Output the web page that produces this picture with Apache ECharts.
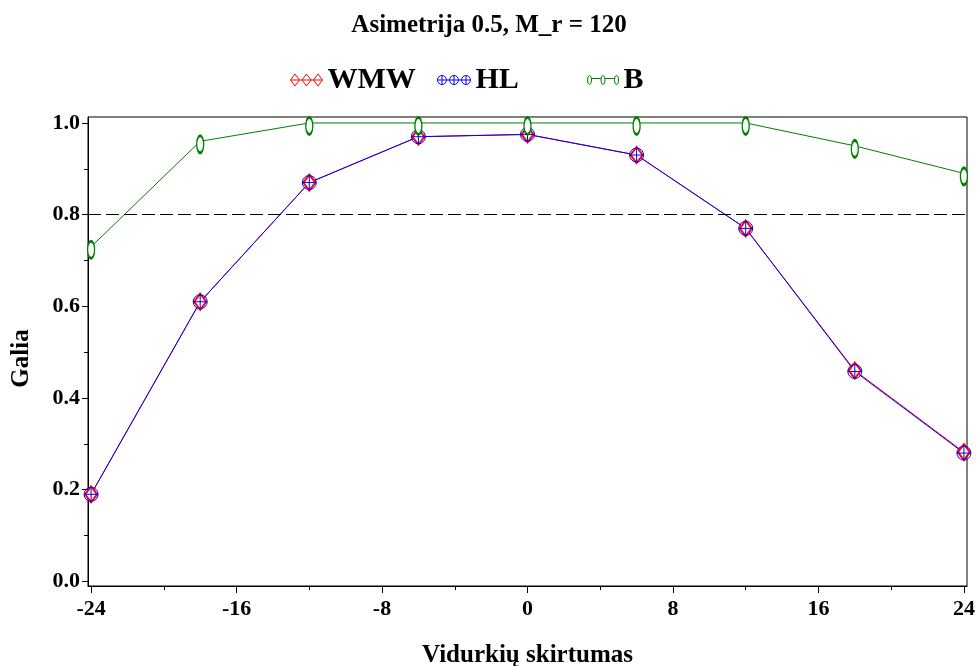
<!DOCTYPE html>
<html>
<head>
<meta charset="utf-8">
<script src="https://cdn.jsdelivr.net/npm/echarts@6/dist/echarts.min.js"></script>
<style>
  html, body { margin: 0; padding: 0; background: #fff; }
  #chart { width: 978px; height: 666px; }
</style>
</head>
<body>
<div id="chart"></div>
<script>
// Mean difference (x) and power estimates for each test
const differences = [-24, -18, -12, -6, 0, 6, 12, 18, 24];
const wmwPower = [0.19, 0.61, 0.87, 0.97, 0.975, 0.93, 0.77, 0.46, 0.282];
const hlPower  = [0.19, 0.61, 0.87, 0.97, 0.975, 0.93, 0.77, 0.458, 0.28];
const bPower   = [0.73, 0.96, 1.0, 1.0, 1.0, 1.0, 1.0, 0.95, 0.89];

// Axis ticks
const xMajorTicks = [-24, -16, -8, 0, 8, 16, 24];
const xMinorTicks = [-20, -12, -4, 4, 12, 20];
const yMajorTicks = [0, 0.2, 0.4, 0.6, 0.8, 1.0];
const yMinorTicks = [0.1, 0.3, 0.5, 0.7, 0.9];
const powerTarget = 0.8;

const FONT = '"Liberation Serif", "Times New Roman", serif';

const pairs = (ys) => differences.map((x, i) => [x, ys[i]]);

// Legend sample icons: three markers joined by a line
const wmwIcon = 'path://M0,6L32,6M0,6L4.5,0L9,6L4.5,12ZM11.5,6L16,0L20.5,6L16,12ZM23,6L27.5,0L32,6L27.5,12Z';
const hlIcon = 'path://M0,5L33,5' +
  'M0,5A4.5,4.5,0,1,1,9,5A4.5,4.5,0,1,1,0,5ZM4.5,0.5L4.5,9.5' +
  'M12,5A4.5,4.5,0,1,1,21,5A4.5,4.5,0,1,1,12,5ZM16.5,0.5L16.5,9.5' +
  'M24,5A4.5,4.5,0,1,1,33,5A4.5,4.5,0,1,1,24,5ZM28.5,0.5L28.5,9.5';
const bIcon = 'path://M4,3L13.5,3M17.5,3L27,3' +
  'M0,4.5A2,4.5,0,1,1,4,4.5A2,4.5,0,1,1,0,4.5Z' +
  'M13.5,4.5A2,4.5,0,1,1,17.5,4.5A2,4.5,0,1,1,13.5,4.5Z' +
  'M27,4.5A2,4.5,0,1,1,31,4.5A2,4.5,0,1,1,27,4.5Z';

const crossCircle = 'path://M0,-10A10,10,0,1,1,0,10A10,10,0,1,1,0,-10ZM-10,0L10,0M0,-10L0,10';

const chart = echarts.init(document.getElementById('chart'), null, { renderer: 'canvas' });

const legendText = { fontFamily: FONT, fontWeight: 'bold', fontSize: 30, color: '#000',
                     padding: [6, 0, 0, 0] };
const mkLegend = (name, icon, color, left, w, h) => ({
  left: left, top: 65, padding: 0, itemWidth: w, itemHeight: h,
  textStyle: legendText, selectedMode: false,
  data: [{ name: name, icon: icon,
           itemStyle: { color: 'rgba(0,0,0,0)', borderColor: color, borderWidth: 1 } }]
});

chart.setOption({
  animation: false,
  backgroundColor: '#fff',
  title: {
    text: 'Asimetrija 0.5, M_r = 120',
    left: 'center', top: 8,
    textStyle: { fontFamily: FONT, fontWeight: 'bold', fontSize: 25, color: '#000' }
  },
  legend: [
    mkLegend('WMW', wmwIcon, '#ff0000', 290, 32, 12),
    mkLegend('HL', hlIcon, '#0000ff', 437, 33, 10),
    mkLegend('B', bIcon, '#008000', 587, 31, 9)
  ],
  grid: {
    left: 88, right: 11, top: 117, bottom: 80,
    outerBoundsMode: 'none', containLabel: false,
    show: true, borderColor: '#000', borderWidth: 1, backgroundColor: 'transparent'
  },
  xAxis: [{
    type: 'value', min: -24.17, max: 24.17,
    name: 'Vidurkių skirtumas', nameLocation: 'middle', nameGap: 57,
    nameTextStyle: { fontFamily: FONT, fontWeight: 'bold', fontSize: 25, color: '#000' },
    axisLine: { show: true, onZero: false, lineStyle: { color: '#000', width: 1 } },
    axisTick: { show: true, length: 7, customValues: xMajorTicks, lineStyle: { color: '#000' } },
    axisLabel: { customValues: xMajorTicks, margin: 12, formatter: (v) => String(v),
                 fontFamily: FONT, fontWeight: 'bold', fontSize: 22, color: '#000' },
    splitLine: { show: false }
  }, {
    type: 'value', min: -24.17, max: 24.17, position: 'bottom',
    axisLine: { show: false, onZero: false },
    axisTick: { show: true, length: 4, customValues: xMinorTicks, lineStyle: { color: '#000' } },
    axisLabel: { show: false },
    splitLine: { show: false }
  }],
  yAxis: [{
    type: 'value', min: -0.01, max: 1.013,
    name: 'Galia', nameLocation: 'middle', nameGap: 54, nameRotate: 90,
    nameTextStyle: { fontFamily: FONT, fontWeight: 'bold', fontSize: 25, color: '#000',
                     padding: [0, 14, 0, 0] },
    axisLine: { show: true, onZero: false, lineStyle: { color: '#000', width: 1 } },
    axisTick: { show: true, length: 6, customValues: yMajorTicks, lineStyle: { color: '#000' } },
    axisLabel: { customValues: yMajorTicks, margin: 8, formatter: (v) => v.toFixed(1),
                 fontFamily: FONT, fontWeight: 'bold', fontSize: 22, color: '#000' },
    splitLine: { show: false }
  }, {
    type: 'value', min: -0.01, max: 1.013, position: 'left',
    axisLine: { show: false, onZero: false },
    axisTick: { show: true, length: 4, customValues: yMinorTicks, lineStyle: { color: '#000' } },
    axisLabel: { show: false },
    splitLine: { show: false }
  }],
  series: [{
    name: 'WMW', type: 'line', data: pairs(wmwPower), clip: false,
    symbol: 'emptyDiamond', symbolSize: [12, 16],
    itemStyle: { color: '#ff0000', borderColor: '#ff0000', borderWidth: 1 },
    lineStyle: { color: '#ff0000', width: 1 },
    markLine: {
      silent: true, symbol: 'none', label: { show: false },
      lineStyle: { color: '#000', width: 1, type: [13, 5] },
      data: [{ yAxis: powerTarget }]
    }
  }, {
    name: 'HL', type: 'line', data: pairs(hlPower), clip: false,
    symbol: crossCircle, symbolSize: 14,
    itemStyle: { color: 'rgba(0,0,0,0)', borderColor: '#0000ff', borderWidth: 1 },
    lineStyle: { color: '#0000ff', width: 1 }
  }, {
    name: 'B', type: 'line', data: pairs(bPower), clip: false,
    symbol: 'emptyCircle', symbolSize: [7, 17], symbolOffset: [0, 3],
    itemStyle: { color: '#008000', borderColor: '#008000', borderWidth: 1 },
    lineStyle: { color: '#008000', width: 1 }
  }]
});
</script>
</body>
</html>
